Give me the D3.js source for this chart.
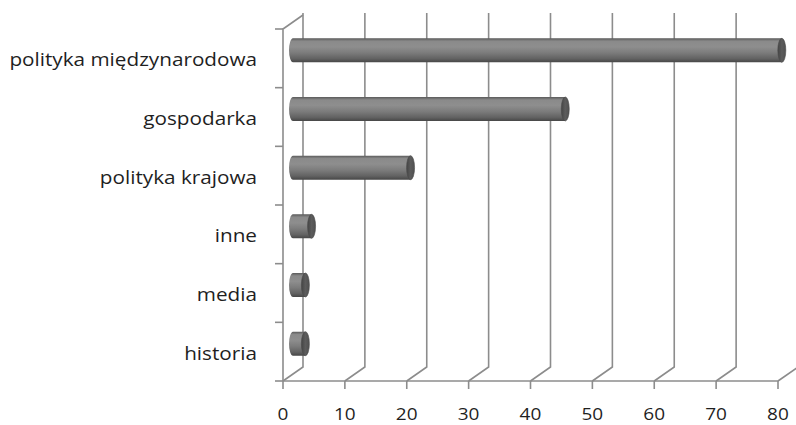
<!DOCTYPE html>
<html>
<head>
<meta charset="utf-8">
<script src="https://cdn.jsdelivr.net/npm/d3@7"></script>
<style>
  html, body { margin: 0; padding: 0; background: #fff; }
  svg { display: block; }
  text { font-family: "Open Sans", "Noto Sans", sans-serif; fill: #1f1f1f; }
</style>
</head>
<body>
<svg id="chart" width="796" height="425"></svg>
<script>
// Topics and counts
const categories = ["polityka międzynarodowa", "gospodarka", "polityka krajowa", "inne", "media", "historia"];
const values = [79, 44, 19, 3, 2, 2];
const xTicks = [0, 10, 20, 30, 40, 50, 60, 70, 80];

const svg = d3.select("#chart");

// Front plane of the 3D box and depth offset toward the back wall
const x = d3.scaleLinear().domain([0, 80]).range([283, 778]);
const y = d3.scaleBand().domain(categories).range([29, 381]).paddingInner(0).paddingOuter(0);
const depth = { dx: 20, dy: -14 };
const floorY = 381;
const gridColor = "#8c8c8c";

// Cylinder shading
const defs = svg.append("defs");
const grad = defs.append("linearGradient").attr("id", "cyl")
  .attr("x1", 0).attr("y1", 0).attr("x2", 0).attr("y2", 1);
[[0, "#5a5a5a"], [0.12, "#8a8a8a"], [0.35, "#8e8e8e"], [0.6, "#7c7c7c"], [0.85, "#626262"], [1, "#474747"]]
  .forEach(([o, c]) => grad.append("stop").attr("offset", o).attr("stop-color", c));
const capGrad = defs.append("linearGradient").attr("id", "cap")
  .attr("x1", 0).attr("y1", 0).attr("x2", 1).attr("y2", 0);
[[0, "#444"], [0.5, "#5c5c5c"], [1, "#505050"]]
  .forEach(([o, c]) => capGrad.append("stop").attr("offset", o).attr("stop-color", c));

const grid = svg.append("g").attr("fill", "none").attr("stroke", gridColor).attr("stroke-width", 1.6);

// Back wall verticals and floor diagonals at every tick
xTicks.forEach(t => {
  const fx = x(t);
  grid.append("path")
    .attr("d", `M${fx},${floorY} L${fx + depth.dx},${floorY + depth.dy} L${fx + depth.dx},13`);
});

// Front floor edge and left side wall
grid.append("line").attr("x1", x(0)).attr("x2", x(80)).attr("y1", floorY).attr("y2", floorY);
grid.append("path").attr("d", `M${x(0)},${floorY} L${x(0)},${y.range()[0]} L${x(0) + depth.dx},${y.range()[0] + depth.dy}`);

// Category tick marks on the left edge
const bandEdges = categories.map(c => y(c)).concat([y.range()[1]]);
bandEdges.forEach(e => {
  grid.append("line").attr("x1", x(0) - 8).attr("x2", x(0)).attr("y1", e).attr("y2", e);
});

// Value tick marks along the floor
xTicks.forEach(t => {
  grid.append("line").attr("x1", x(t)).attr("x2", x(t)).attr("y1", floorY).attr("y2", floorY + 8);
});

// Cylinders, placed half-way into the depth
const r = 12, capRx = 4;
const bars = svg.append("g");
categories.forEach((c, i) => {
  const cy = y(c) + y.bandwidth() / 2 + depth.dy / 2 - 1;
  const x0 = x(0) + depth.dx / 2;
  const x1 = x(values[i]) + depth.dx / 2;
  const g = bars.append("g");
  // body with rounded back end
  g.append("path")
    .attr("d", `M${x1},${cy - r} L${x0},${cy - r} A${capRx},${r} 0 0 0 ${x0},${cy + r} L${x1},${cy + r} Z`)
    .attr("fill", "url(#cyl)");
  // front cap
  g.append("ellipse")
    .attr("cx", x1).attr("cy", cy).attr("rx", capRx).attr("ry", r)
    .attr("fill", "url(#cap)").attr("stroke", "#4a4a4a").attr("stroke-width", 0.6);
});

// Category labels
const labels = svg.append("g");
categories.forEach(c => {
  labels.append("text")
    .attr("transform", `translate(257,${y(c) + y.bandwidth() / 2 + 8}) scale(1.12,1)`)
    .attr("text-anchor", "end")
    .attr("font-size", 18.5)
    .text(c);
});

// Value axis labels
const tickLabels = svg.append("g");
xTicks.forEach(t => {
  tickLabels.append("text")
    .attr("transform", `translate(${x(t)},420) scale(1.12,1)`)
    .attr("text-anchor", "middle")
    .attr("font-size", 17)
    .text(t);
});
</script>
</body>
</html>
